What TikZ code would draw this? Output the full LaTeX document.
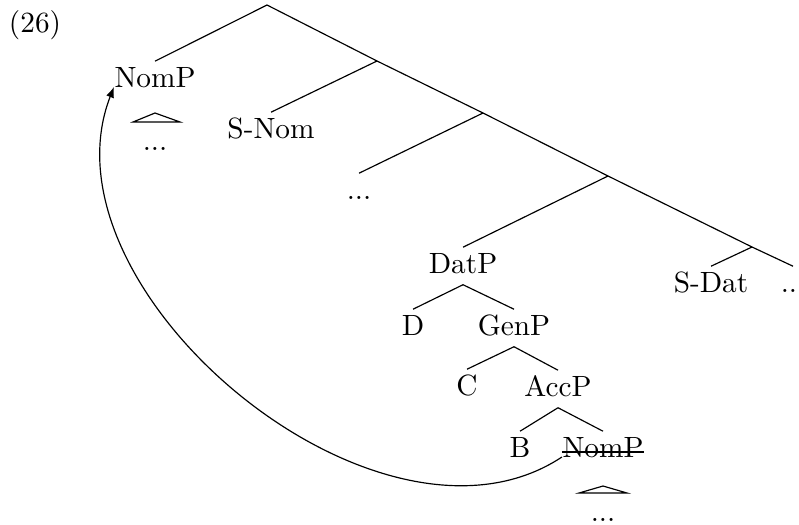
\documentclass[tikz,border=0pt]{standalone}
\usetikzlibrary{arrows.meta,calc}
\begin{document}
\begin{tikzpicture}[x=0.3413pt,y=-0.3413pt,>={Latex[length=3.6pt,width=2.8pt]},
  cat/.style={anchor=base,inner xsep=0pt,inner ysep=2pt,text height=6.6pt,text depth=1.8pt}]
\useasboundingbox (0,0) rectangle (799,524);
\node[anchor=base] (exnum) at (35,32) {(26)};
% spine
\coordinate (root) at (267,5);
\coordinate (b1) at (377,61);
\coordinate (b2) at (483,113);
\coordinate (b3) at (608,176);
\coordinate (b4) at (752,247);
\node[cat] (nomA) at (155,87) {NomP};
\node[cat] (snom) at (271,138) {S-Nom};
\node[cat] (dotsB) at (359,199) {...};
\node[cat] (datp) at (463,273) {DatP};
\node[cat] (sdat) at (711,292) {S-Dat};
\node[cat] (dotsR) at (793,292) {...};
\draw (root) -- (nomA.north);
\draw (root) -- (b1) -- (b2) -- (b3) -- (b4) -- (dotsR.north);
\draw (b1) -- (snom.north);
\draw (b2) -- (dotsB.north);
\draw (b3) -- (datp.north);
\draw (b4) -- (sdat.north);
% DatP subtree
\node[cat] (d) at (413,335) {D};
\node[cat] (genp) at (514,335) {GenP};
\node[cat] (c) at (467,395) {C};
\node[cat] (accp) at (558,396) {AccP};
\node[cat] (b) at (520,457) {B};
\node[cat] (nomB) at (603,457) {NomP};
\draw (datp.south) -- (d.north);
\draw (datp.south) -- (genp.north);
\draw (genp.south) -- (c.north);
\draw (genp.south) -- (accp.north);
\draw (accp.south) -- (b.north);
\draw (accp.south) -- (nomB.north);
\draw[line width=0.5pt] ([yshift=1.7pt]nomB.base west) -- ([yshift=1.7pt]nomB.base east);
% roofs
\node[cat] (dotsA) at (155,150) {...};
\draw (133,122) -- (155,113) -- (180,122) -- cycle;
\node[cat] (dotsC) at (603,521) {...};
\draw (579,493) -- (603,486) -- (627,493) -- cycle;
% movement
\draw[->] (nomB.base west) .. controls +(-183,121) and +(-79,203) .. (nomA.base west);
\end{tikzpicture}
\end{document}
